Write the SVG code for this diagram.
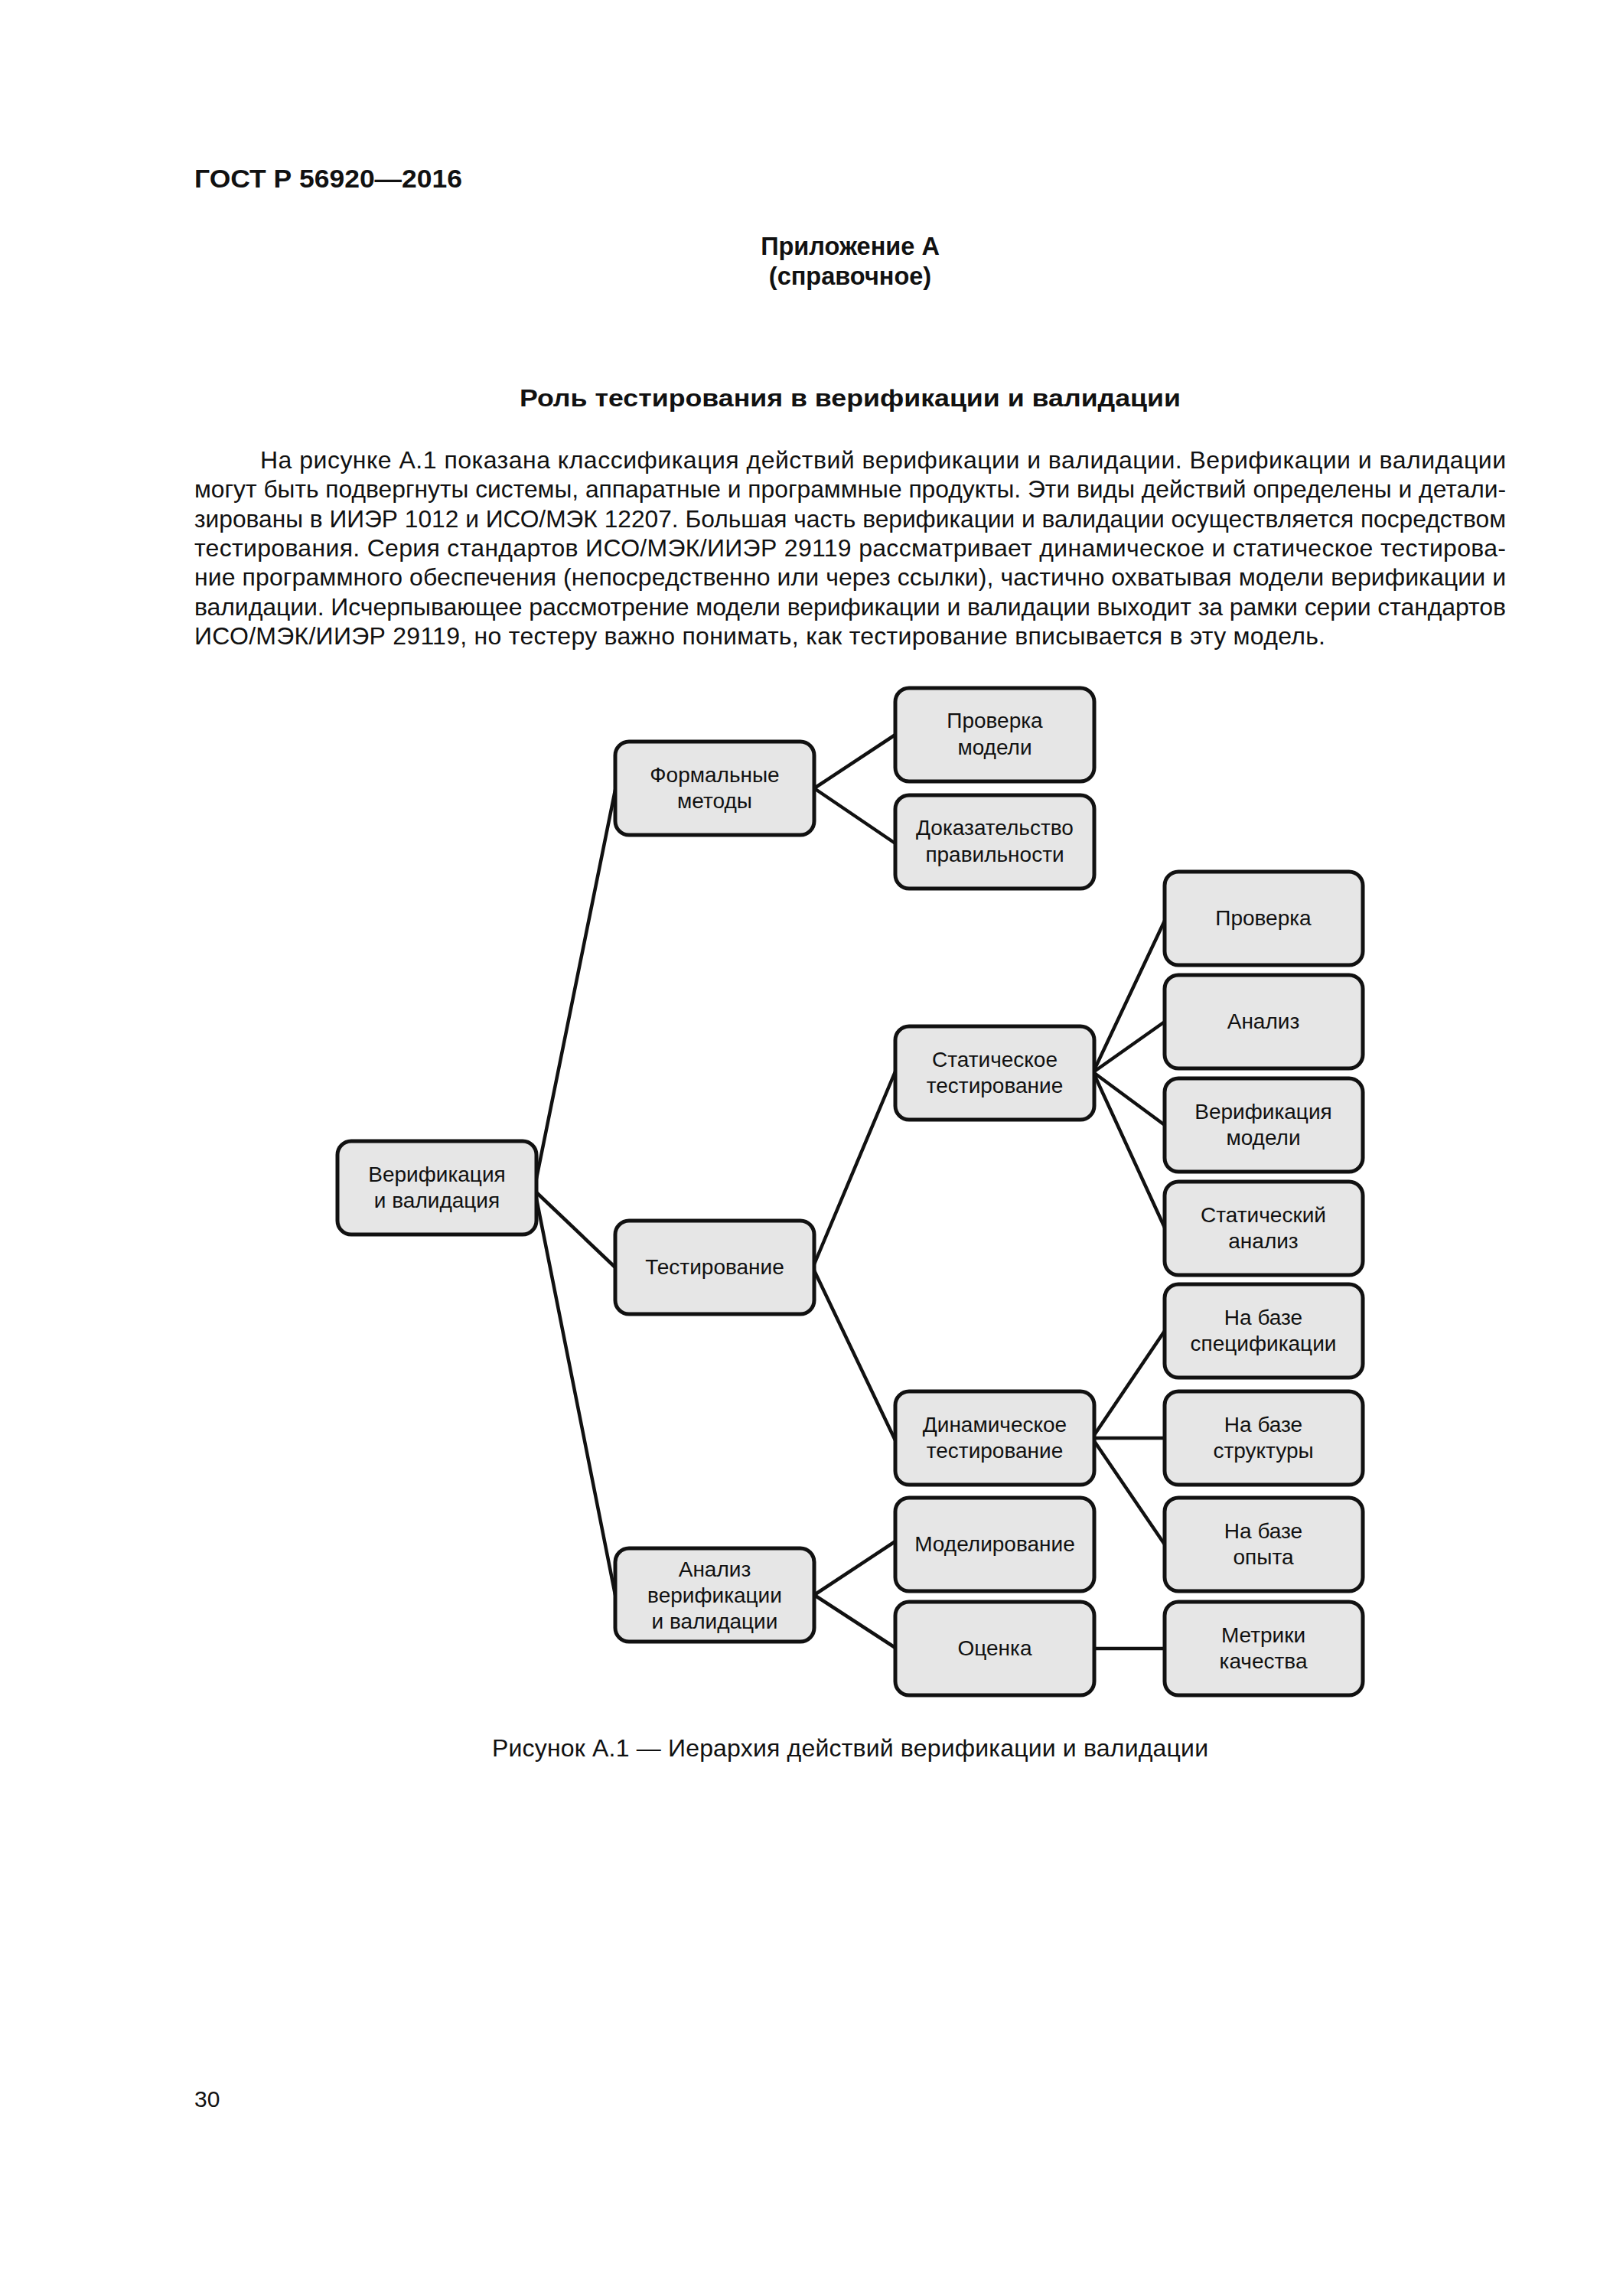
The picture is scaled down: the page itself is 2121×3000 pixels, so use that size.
<svg xmlns="http://www.w3.org/2000/svg" width="2121" height="3000" viewBox="0 0 2121 3000">
<style>
  .pg { font-family: "Liberation Sans", Arial, Helvetica, sans-serif; fill: #111; }
  .b { font-weight: bold; }
  .body { font-size: 32px; }
  .box { fill: #e6e6e6; stroke: #111; stroke-width: 5; }
  .lbl { font-family: "Liberation Sans", Arial, Helvetica, sans-serif; font-size: 28px; fill: #111; text-anchor: middle; }
  .conn line { stroke: #111; stroke-width: 4.5; stroke-linecap: round; }
</style>
<rect x="0" y="0" width="2121" height="3000" fill="#ffffff"/>

<g id="page-text" class="pg">
  <text class="b" x="254" y="245" font-size="33" textLength="350" lengthAdjust="spacingAndGlyphs">ГОСТ Р 56920—2016</text>
  <text class="b" x="1111" y="333" font-size="32.5" text-anchor="middle">Приложение А</text>
  <text class="b" x="1111" y="372" font-size="32.5" text-anchor="middle">(справочное)</text>
  <text class="b" x="679" y="531" font-size="32" textLength="864" lengthAdjust="spacingAndGlyphs">Роль тестирования в верификации и валидации</text>
  <g class="body">
    <text x="340" y="612" textLength="1628" lengthAdjust="spacing">На рисунке А.1 показана классификация действий верификации и валидации. Верификации и валидации</text>
    <text x="254" y="650" textLength="1714" lengthAdjust="spacingAndGlyphs">могут быть подвергнуты системы, аппаратные и программные продукты. Эти виды действий определены и детали-</text>
    <text x="254" y="689" textLength="1714" lengthAdjust="spacingAndGlyphs">зированы в ИИЭР 1012 и ИСО/МЭК 12207. Большая часть верификации и валидации осуществляется посредством</text>
    <text x="254" y="727" textLength="1714" lengthAdjust="spacing">тестирования. Серия стандартов ИСО/МЭК/ИИЭР 29119 рассматривает динамическое и статическое тестирова-</text>
    <text x="254" y="765" textLength="1714" lengthAdjust="spacing">ние программного обеспечения (непосредственно или через ссылки), частично охватывая модели верификации и</text>
    <text x="254" y="804" textLength="1714" lengthAdjust="spacing">валидации. Исчерпывающее рассмотрение модели верификации и валидации выходит за рамки серии стандартов</text>
    <text x="254" y="842" textLength="1478" lengthAdjust="spacing">ИСО/МЭК/ИИЭР 29119, но тестеру важно понимать, как тестирование вписывается в эту модель.</text>
  </g>
  <text x="643" y="2295" font-size="32" textLength="936" lengthAdjust="spacing">Рисунок А.1 — Иерархия действий верификации и валидации</text>
  <text x="254" y="2753" font-size="30">30</text>
</g>

<g id="connectors" class="conn">
  <line x1="701" y1="1540" x2="804" y2="1032"/>
  <line x1="701" y1="1558" x2="804" y2="1656"/>
  <line x1="701" y1="1566" x2="804" y2="2084"/>
  <line x1="1064" y1="1030" x2="1170" y2="960"/>
  <line x1="1064" y1="1030" x2="1170" y2="1102"/>
  <line x1="1064" y1="1652" x2="1170" y2="1400"/>
  <line x1="1064" y1="1660" x2="1170" y2="1882"/>
  <line x1="1430" y1="1398" x2="1522" y2="1203"/>
  <line x1="1430" y1="1400" x2="1522" y2="1335"/>
  <line x1="1430" y1="1402" x2="1522" y2="1470"/>
  <line x1="1430" y1="1404" x2="1522" y2="1604"/>
  <line x1="1430" y1="1875" x2="1522" y2="1739"/>
  <line x1="1430" y1="1879" x2="1522" y2="1879"/>
  <line x1="1430" y1="1883" x2="1522" y2="2018"/>
  <line x1="1064" y1="2084" x2="1170" y2="2014"/>
  <line x1="1064" y1="2084" x2="1170" y2="2153"/>
  <line x1="1430" y1="2154" x2="1522" y2="2154"/>
</g>

<g id="n-root">
  <rect class="box" x="441" y="1491" width="260" height="122" rx="18"/>
  <text class="lbl" x="571" y="1544">Верификация</text>
  <text class="lbl" x="571" y="1578">и валидация</text>
</g>
<g id="n-formal">
  <rect class="box" x="804" y="969" width="260" height="122" rx="18"/>
  <text class="lbl" x="934" y="1022">Формальные</text>
  <text class="lbl" x="934" y="1056">методы</text>
</g>
<g id="n-testing">
  <rect class="box" x="804" y="1595" width="260" height="122" rx="18"/>
  <text class="lbl" x="934" y="1665">Тестирование</text>
</g>
<g id="n-vv-analysis">
  <rect class="box" x="804" y="2023" width="260" height="122" rx="18"/>
  <text class="lbl" x="934" y="2060">Анализ</text>
  <text class="lbl" x="934" y="2094">верификации</text>
  <text class="lbl" x="934" y="2128">и валидации</text>
</g>
<g id="n-model-check">
  <rect class="box" x="1170" y="899" width="260" height="122" rx="18"/>
  <text class="lbl" x="1300" y="951">Проверка</text>
  <text class="lbl" x="1300" y="986">модели</text>
</g>
<g id="n-proof">
  <rect class="box" x="1170" y="1039" width="260" height="122" rx="18"/>
  <text class="lbl" x="1300" y="1091">Доказательство</text>
  <text class="lbl" x="1300" y="1126">правильности</text>
</g>
<g id="n-static">
  <rect class="box" x="1170" y="1341" width="260" height="122" rx="18"/>
  <text class="lbl" x="1300" y="1394">Статическое</text>
  <text class="lbl" x="1300" y="1428">тестирование</text>
</g>
<g id="n-dynamic">
  <rect class="box" x="1170" y="1818" width="260" height="122" rx="18"/>
  <text class="lbl" x="1300" y="1871">Динамическое</text>
  <text class="lbl" x="1300" y="1905">тестирование</text>
</g>
<g id="n-modeling">
  <rect class="box" x="1170" y="1957" width="260" height="122" rx="18"/>
  <text class="lbl" x="1300" y="2027">Моделирование</text>
</g>
<g id="n-evaluation">
  <rect class="box" x="1170" y="2093" width="260" height="122" rx="18"/>
  <text class="lbl" x="1300" y="2163">Оценка</text>
</g>
<g id="n-review">
  <rect class="box" x="1522" y="1139" width="259" height="122" rx="18"/>
  <text class="lbl" x="1651" y="1209">Проверка</text>
</g>
<g id="n-analysis">
  <rect class="box" x="1522" y="1274" width="259" height="122" rx="18"/>
  <text class="lbl" x="1651" y="1344">Анализ</text>
</g>
<g id="n-model-verif">
  <rect class="box" x="1522" y="1409" width="259" height="122" rx="18"/>
  <text class="lbl" x="1651" y="1462">Верификация</text>
  <text class="lbl" x="1651" y="1496">модели</text>
</g>
<g id="n-static-analysis">
  <rect class="box" x="1522" y="1544" width="259" height="122" rx="18"/>
  <text class="lbl" x="1651" y="1597">Статический</text>
  <text class="lbl" x="1651" y="1631">анализ</text>
</g>
<g id="n-spec">
  <rect class="box" x="1522" y="1678" width="259" height="122" rx="18"/>
  <text class="lbl" x="1651" y="1731">На базе</text>
  <text class="lbl" x="1651" y="1765">спецификации</text>
</g>
<g id="n-structure">
  <rect class="box" x="1522" y="1818" width="259" height="122" rx="18"/>
  <text class="lbl" x="1651" y="1871">На базе</text>
  <text class="lbl" x="1651" y="1905">структуры</text>
</g>
<g id="n-experience">
  <rect class="box" x="1522" y="1957" width="259" height="122" rx="18"/>
  <text class="lbl" x="1651" y="2010">На базе</text>
  <text class="lbl" x="1651" y="2044">опыта</text>
</g>
<g id="n-metrics">
  <rect class="box" x="1522" y="2093" width="259" height="122" rx="18"/>
  <text class="lbl" x="1651" y="2146">Метрики</text>
  <text class="lbl" x="1651" y="2180">качества</text>
</g>
</svg>
